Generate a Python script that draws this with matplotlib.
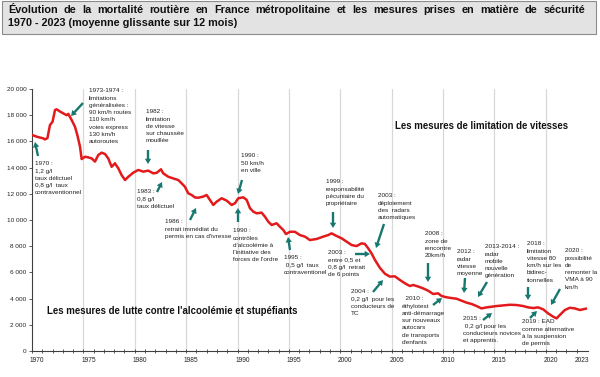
import matplotlib
matplotlib.use("Agg")
import matplotlib.pyplot as plt
from matplotlib.patches import Rectangle, FancyArrowPatch
from matplotlib.transforms import ScaledTranslation

plt.rcParams['font.family'] = ['Liberation Sans', 'DejaVu Sans']

# ---------------- data ----------------
years = [1970.0, 1970.5, 1971.10, 1971.26, 1971.5, 1971.75, 1972.0, 1972.24, 1972.40, 1972.72,
         1973.05, 1973.37, 1973.53, 1973.86, 1974.18, 1974.41, 1974.67, 1974.83, 1975.16, 1975.48,
         1975.81, 1976.13, 1976.45, 1976.78, 1977.10, 1977.42, 1977.75, 1978.07, 1978.40, 1978.72,
         1979.05, 1979.37, 1979.85, 1980.34, 1980.83, 1981.31, 1981.80, 1982.13, 1982.55, 1982.77,
         1983.26, 1983.74, 1984.23, 1984.56, 1984.88, 1985.20, 1985.53, 1985.86, 1986.18, 1986.67,
         1986.99, 1987.32, 1987.64, 1987.97, 1988.45, 1988.94, 1989.43, 1989.75, 1990.07, 1990.56,
         1990.89, 1991.21, 1991.53, 1991.86, 1992.34, 1992.67, 1992.99, 1993.32, 1993.80, 1994.12,
         1994.45, 1994.71, 1995.10, 1995.58, 1996.07, 1996.56, 1997.04, 1997.69, 1998.34, 1998.82,
         1999.15, 1999.64, 2000.13, 2000.61, 2001.10, 2001.58, 2002.07, 2002.39, 2002.71, 2003.04,
         2003.37, 2003.85, 2004.34, 2004.82, 2005.31, 2005.80, 2006.28, 2006.77, 2007.09, 2007.58,
         2008.06, 2008.55, 2009.04, 2009.52, 2009.85, 2010.34, 2010.83, 2011.31, 2011.80, 2012.29,
         2012.77, 2013.26, 2013.74, 2014.23, 2014.72, 2015.20, 2015.85, 2016.50, 2017.15, 2017.80,
         2018.28, 2018.77, 2019.25, 2019.74, 2020.22, 2020.71, 2021.04, 2021.36, 2021.85, 2022.33,
         2022.82, 2023.31, 2023.89]
deaths = [16490, 16350, 16230, 16150, 16250, 17250, 17500, 18400, 18450, 18280,
          18140, 18000, 18100, 17630, 17120, 16490, 15600, 14650, 14830, 14780,
          14700, 14460, 14960, 15140, 15040, 14700, 14060, 14330, 13940, 13430,
          13050, 13300, 13610, 13820, 13690, 13770, 13560, 13600, 13870, 13560,
          13300, 13180, 13050, 12800, 12540, 12040, 11910, 11720, 11700, 11790,
          11910, 11530, 11150, 11400, 11660, 11480, 11150, 11280, 11660, 11730,
          11530, 10900, 10640, 10510, 10560, 10250, 9870, 9620, 9750, 9490,
          9240, 8930, 9100, 9100, 8850, 8730, 8470, 8550, 8730, 8850,
          8980, 8780, 8600, 8350, 8090, 8010, 8220, 8170, 7840, 7450,
          6950, 6350, 5900, 5680, 5700, 5420, 5170, 4960, 5040, 4920,
          4780, 4600, 4350, 4400, 4200, 4100, 4040, 3990, 3840, 3690,
          3590, 3430, 3250, 3330, 3380, 3430, 3480, 3530, 3510, 3430,
          3330, 3280, 3330, 3180, 2870, 2620, 2490, 2750, 3130, 3300,
          3250, 3130, 3230]

xtick_years = [1970, 1975, 1980, 1985, 1990, 1995, 2000, 2005, 2010, 2015, 2020, 2023]
grid_years = [1975, 1980, 1985, 1990, 1995, 2000, 2005, 2010, 2015, 2020]
yticks = list(range(0, 20001, 2000))

title_line1 = "Évolution de la mortalité routière en France métropolitaine et les mesures prises en matière de sécurité"
title_line2 = "1970 - 2023 (moyenne glissante sur 12 mois)"

# annotations: (text, text-left px, first-line-centre px, arrow tail px, arrow head px)
annotations = [
    ("1970 :\n1,2 g/l\ntaux délictuel\n0,8 g/l  taux\ncontraventionnel", 35, 165, (38, 156), (35, 142)),
    ("1973-1974 :\nlimitations\ngénéralisées :\n90 km/h routes\n110 km/h\nvoies express\n130 km/h\nautoroutes", 89, 92, (83, 103), (71, 116)),
    ("1982 :\nlimitation\nde vitesse\nsur chaussée\nmouillée", 146, 113, (148, 150), (148, 164)),
    ("1983 :\n0,8 g/l\ntaux délictuel", 137, 193, (157, 192), (162, 182)),
    ("1986 :\nretrait immédiat du\npermis en cas d'ivresse", 165, 223, (190, 220), (196, 208)),
    ("1990 :\n50 km/h\nen ville", 241, 157, (242, 180), (238, 194)),
    ("1990 :\ncontrôles\nd'alcoolémie à\nl'initiative des\nforces de l'ordre", 233, 232, (238, 222), (238, 208)),
    ("1995 :\n 0,5 g/l  taux\ncontraventionel", 284, 259, (290, 250), (288, 237)),
    ("1999 :\nresponsabilité\npécuniaire du\npropriétaire", 326, 183, (333, 212), (333, 228)),
    ("2003 :\ndéploiement\ndes  radars\nautomatiques", 378, 197, (384, 224), (376, 248)),
    ("2003 :\nentre 0,5 et\n0,8 g/l  retrait\nde 6 points", 328, 254, (355, 254), (370, 254)),
    ("2004 :\n0,2 g/l  pour les\nconducteurs de\nTC", 351, 293, (373, 292), (383, 280)),
    ("2008 :\nzone de\nrencontre\n20km/h", 425, 235, (428, 263), (428, 282)),
    ("  2010 :\néthylotest\nanti-démarrage\nsur nouveaux\nautocars\nde transports\nd'enfants", 402, 300, (433, 305), (442, 298)),
    ("2012 :\nradar\nvitesse\nmoyenne", 457, 253, (465, 278), (464, 293)),
    ("2013-2014 :\nradar\nmobile\nnouvelle\ngénération", 485, 248, (487, 282), (478, 297)),
    ("2015 :\n 0,2 g/l pour les\nconducteurs novices\net apprentis.", 463, 320, (483, 320), (492, 313)),
    ("2018 :\nlimitation\nvitesse 80\nkm/h sur les\nbidirec-\ntionnelles", 527, 245, (528, 287), (528, 300)),
    ("2019 : EAD\ncomme alternative\nà la suspension\nde permis", 522, 323, (530, 318), (537, 311)),
    ("2020 :\npossibilité\nde\nremonter la\nVMA à 90\nkm/h", 565, 252, (560, 289), (551, 305)),
]

section_labels = [
    ("Les mesures de limitation de vitesses", 395, 126),
    ("Les mesures de lutte contre l'alcoolémie et stupéfiants", 47, 311),
]

# ---------------- figure ----------------
W, H = 600, 377
fig = plt.figure(figsize=(W / 100, H / 100), dpi=100)
fig.patch.set_facecolor('white')


def fx(x):
    return x / W


def fy(y):
    return 1 - y / H


RED = '#e31a1c'
TEAL = '#17786f'
AX_COL = '#404040'

ax = fig.add_axes([fx(32), fy(351), fx(588) - fx(32), fy(89) - fy(351)])
ax.set_xlim(1970, 2024.1)
ax.set_ylim(0, 20000)
for yr in grid_years:
    ax.axvline(yr, color='#d8d8d8', lw=0.9, zorder=0)
ax.plot(years, deaths, color=RED, lw=1.8, zorder=3, solid_joinstyle='round')

for s in ['top', 'right']:
    ax.spines[s].set_visible(False)
for s in ['left', 'bottom']:
    ax.spines[s].set_color(AX_COL)
    ax.spines[s].set_linewidth(0.8)

ax.set_yticks(yticks)
ax.set_yticklabels([f"{v:,}".replace(",", " ") for v in yticks], fontsize=4.6, color='#222222')
ax.set_xticks(xtick_years)
ax.set_xticklabels([str(y) for y in xtick_years], fontsize=4.8, color='#222222')
ax.set_xticks(range(1970, 2024), minor=True)
ax.tick_params(axis='y', length=2, width=0.6, color=AX_COL, pad=2)
ax.tick_params(axis='x', which='both', direction='inout', length=2.5, width=0.6, color=AX_COL, pad=3)
shift = ScaledTranslation(5 / 100, 0, fig.dpi_scale_trans)
for lab in ax.get_xticklabels():
    lab.set_transform(lab.get_transform() + shift)
ax.set_facecolor('none')

# title box
fig.patches.append(Rectangle((fx(2), fy(34)), fx(596) - fx(2), fy(1) - fy(34),
                             transform=fig.transFigure, facecolor='#e3e3e3',
                             edgecolor='#8c8c8c', lw=0.8, zorder=0))

# justified first title line
renderer = fig.canvas.get_renderer()
words = title_line1.split(' ')
tfs = 7.8
objs = [fig.text(0, fy(10), w, fontsize=tfs, fontweight='bold', va='center', ha='left', color='#111111')
        for w in words]
widths = [o.get_window_extent(renderer).width for o in objs]
left, right = 8, 585
gap = (right - left - sum(widths)) / (len(words) - 1)
xpos = left
for o, w in zip(objs, widths):
    o.set_x(fx(xpos))
    xpos += w + gap
fig.text(fx(8), fy(23), title_line2, fontsize=tfs, fontweight='bold', va='center', ha='left', color='#111111')

# annotations
for text, tx, ty, tail, head in annotations:
    fig.text(fx(tx), fy(ty - 3.6), text, fontsize=4.6, va='top', ha='left',
             linespacing=1.56, color='#222222')
    arr = FancyArrowPatch(posA=(fx(tail[0]), fy(tail[1])), posB=(fx(head[0]), fy(head[1])),
                          transform=fig.transFigure,
                          arrowstyle='simple,tail_width=1.7,head_width=4.6,head_length=3.8',
                          mutation_scale=1, color=TEAL, shrinkA=0, shrinkB=0, lw=0)
    fig.patches.append(arr)

for text, tx, ty in section_labels:
    fig.text(fx(tx), fy(ty), text, fontsize=6.9, fontweight='bold', va='center', ha='left', color='#111111')

fig.savefig('out.png', dpi=100)
